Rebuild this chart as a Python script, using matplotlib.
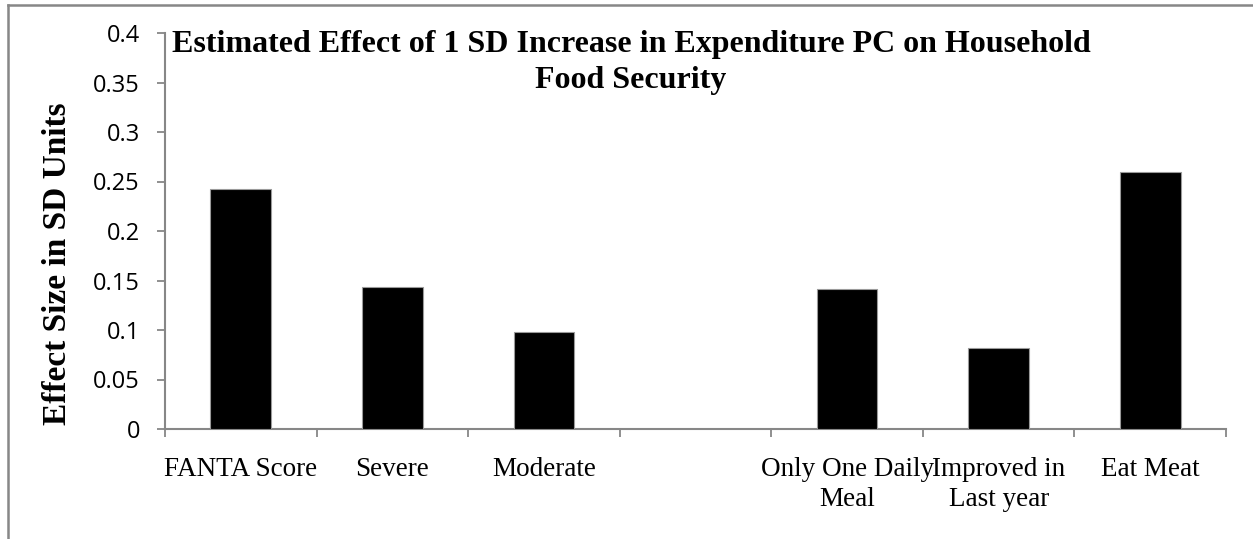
import matplotlib
matplotlib.use("Agg")
import matplotlib.pyplot as plt
from matplotlib.lines import Line2D

# Category labels (an empty slot separates the two groups of measures)
categories = ["FANTA Score", "Severe", "Moderate", "",
              "Only One Daily\nMeal", "Improved in\nLast year", "Eat Meat"]
effect_sizes = [0.242, 0.143, 0.098, None, 0.141, 0.082, 0.260]
y_ticks = [0, 0.05, 0.1, 0.15, 0.2, 0.25, 0.3, 0.35, 0.4]
y_tick_labels = ["0", "0.05", "0.1", "0.15", "0.2", "0.25", "0.3", "0.35", "0.4"]

title = "Estimated Effect of 1 SD Increase in Expenditure PC on Household\nFood Security"
y_label = "Effect Size in SD Units"

W, H, DPI = 1253, 539, 100
fig = plt.figure(figsize=(W / DPI, H / DPI), dpi=DPI)
fig.patch.set_facecolor("white")

ax_left, ax_right, ax_bottom, ax_top = 165, 1226, 429, 33
ax = fig.add_axes([ax_left / W, 1 - ax_bottom / H,
                   (ax_right - ax_left) / W, (ax_bottom - ax_top) / H])

axis_grey = "#878787"
serif = ["Liberation Serif", "DejaVu Serif"]

xs = [i for i, v in enumerate(effect_sizes) if v is not None]
vals = [v for v in effect_sizes if v is not None]
ax.bar(xs, vals, width=0.4, color="black", edgecolor="#9a9a9a", linewidth=0.8, zorder=3)

n = len(categories)
ax.set_xlim(-0.5, n - 0.5)
ax.set_ylim(0, 0.4)

# category labels centred in each slot; ticks sit on the slot boundaries
ax.set_xticks([i - 0.5 for i in range(n + 1)])
ax.set_xticklabels([])
ax.set_xticks(range(n), minor=True)
ax.set_xticklabels(categories, minor=True, fontfamily=serif, fontsize=19.5,
                   linespacing=1.3)
ax.tick_params(axis="x", which="minor", length=0, pad=20)
ax.tick_params(axis="x", which="major", length=6, width=1.3, color=axis_grey, direction="out")

ax.set_yticks(y_ticks)
ax.set_yticklabels(y_tick_labels, fontfamily=["Open Sans", "DejaVu Sans"], fontsize=17)
ax.tick_params(axis="y", length=6, width=1.3, color=axis_grey, direction="out", pad=12)

for side in ("top", "right"):
    ax.spines[side].set_visible(False)
for side in ("left", "bottom"):
    ax.spines[side].set_color(axis_grey)
    ax.spines[side].set_linewidth(1.5)

fig.text(631 / W, 1 - 30 / H, title, ha="center", va="top",
         fontfamily=serif, fontweight="bold", fontsize=23, linespacing=1.3)
fig.text(58 / W, 1 - 264 / H, y_label, rotation=90, ha="center", va="center",
         fontfamily=serif, fontweight="bold", fontsize=24)

# outer chart-area border (left and top edges)
fig.add_artist(Line2D([7.5 / W, 7.5 / W], [0, 1 - 5 / H], transform=fig.transFigure,
                      color=axis_grey, linewidth=1.8))
fig.add_artist(Line2D([7.5 / W, 1], [1 - 5 / H, 1 - 5 / H], transform=fig.transFigure,
                      color=axis_grey, linewidth=1.8))

fig.savefig("out.png", dpi=DPI, facecolor="white")
